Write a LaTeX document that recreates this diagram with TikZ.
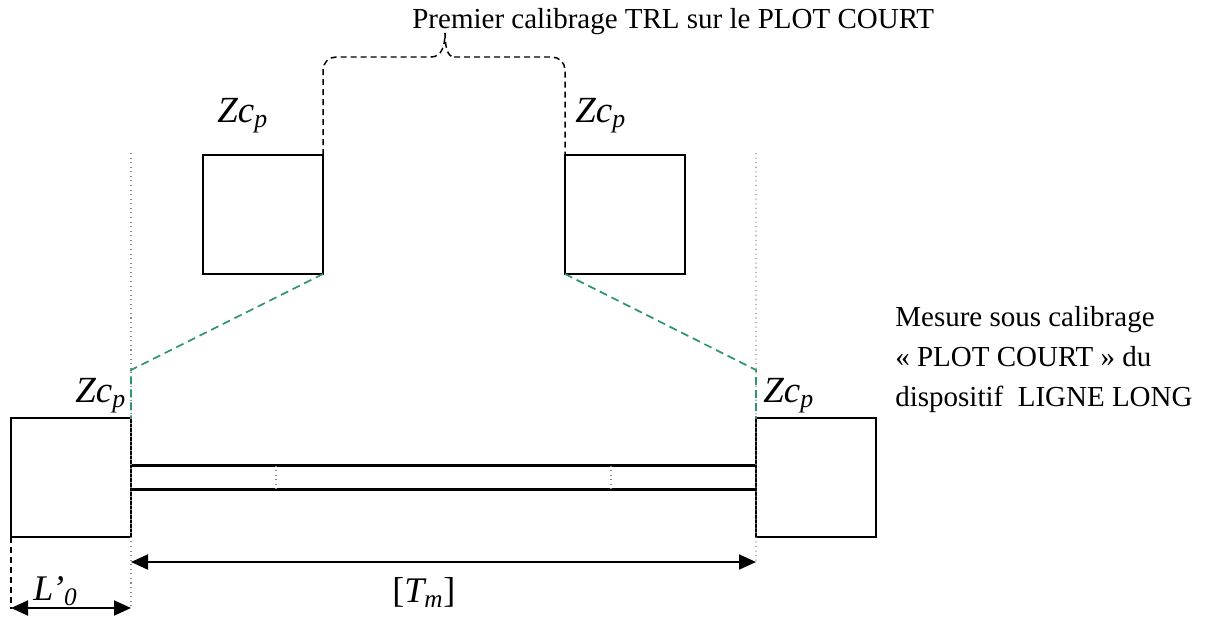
\documentclass[tikz,border=0pt]{standalone}
\usepackage{fontspec}
\setmainfont{Liberation Serif}
\usetikzlibrary{arrows.meta,positioning}

\definecolor{zoomgreen}{RGB}{46,150,104}

\begin{document}
\begin{tikzpicture}[
  font=\fontsize{16.5}{19.8}\selectfont,
  >={Triangle[length=3.4mm,width=3mm]},
  plot/.style={draw,line width=1.1pt,inner sep=0pt,outer sep=0pt,
               minimum width=24mm,minimum height=23.8mm},
  strip/.style={draw,line width=1.2pt,inner sep=0pt,outer sep=0pt,
                minimum width=125mm,minimum height=4.8mm},
  guide/.style={draw=black!45,line width=0.6pt,dotted},
  brc/.style={draw,line width=0.85pt,dash pattern=on 1.2mm off 0.8mm},
  zoomln/.style={draw=zoomgreen,line width=1pt,dash pattern=on 1.6mm off 1mm},
  dim/.style={<->,line width=1.1pt},
  sym/.style={font=\fontsize{21}{24}\selectfont\itshape,inner sep=0pt},
  note/.style={align=left,inner sep=0pt,font=\fontsize{16.5}{22.7}\selectfont},
]
\useasboundingbox (0,0) rectangle (241mm,-123.8mm);

% ---- top: the two short plots used for the first TRL calibration ----
\node[plot,anchor=north east] (zl) at (64.6mm,-31mm) {};
\node[plot,anchor=north west] (zr) at (113mm,-31mm) {};

% ---- bottom: long line device between its two plots ----
\node[plot,anchor=north east] (pl) at (26.2mm,-83.6mm) {};
\node[strip,right=0mm of pl] (ln) {};
\node[plot,right=0mm of ln] (pr) {};
\draw[guide] ([xshift=29mm]ln.north west) -- ([xshift=29mm]ln.south west);
\draw[guide] ([xshift=-29mm]ln.north east) -- ([xshift=-29mm]ln.south east);

% reference planes
\coordinate (gl) at (26.2mm,-30.6mm);
\coordinate (gr) at (151.2mm,-30.6mm);
\draw[guide] (gl) -- ([yshift=-14.4mm]pl.south east);
\draw[guide] (gr) -- ([yshift=-5mm]pr.south west);

% green lines: the short plot is carried over onto the long device
\coordinate (kl) at (26.2mm,-74mm);
\coordinate (kr) at (151.2mm,-74mm);
\draw[zoomln] (zl.south east) -- (kl) -- (pl.north east);
\draw[zoomln] (zr.south west) -- (kr) -- (pr.north west);

% brace over the short plots
\node[inner sep=0pt,anchor=base west] (title) at (82.4mm,-5.6mm)
     {Premier calibrage TRL sur le PLOT COURT};
\coordinate (tip) at (89mm,-6.6mm);
\coordinate (bry) at (0,-11.4mm);
\draw[brc,rounded corners=2.6mm] (zl.north east) |- ([xshift=-2.8mm]tip |- bry);
\draw[brc] ([xshift=-2.8mm]tip |- bry)
      .. controls ([xshift=-0.6mm]tip |- bry) and ([yshift=-2.4mm]tip) .. (tip)
      .. controls ([yshift=-2.4mm]tip) and ([xshift=0.4mm]tip |- bry) .. ([xshift=1.8mm]tip |- bry);
\draw[brc,rounded corners=2.6mm] ([xshift=1.8mm]tip |- bry) -| (zr.north west);

% impedance labels
\node[sym,anchor=base west] (czl) at (43.4mm,-24.4mm) {Zc\textsubscript{p}};
\node[sym,anchor=base west] (czr) at (115mm,-24.4mm) {Zc\textsubscript{p}};
\node[sym,anchor=base west] (cpl) at (15mm,-80.4mm) {Zc\textsubscript{p}};
\node[sym,anchor=base west] (cpr) at (152.6mm,-80.4mm) {Zc\textsubscript{p}};

% dimensions
\draw[dim] ([yshift=-5mm]pl.south east) -- ([yshift=-5mm]pr.south west);
\node[sym,font=\fontsize{20.5}{24}\selectfont,anchor=base west] (tm) at (78.4mm,-120.4mm)
     {\upshape[\itshape T\textsubscript{m}\upshape]};
\draw[brc] (pl.south west) -- ([yshift=-14.4mm]pl.south west);
\draw[dim] ([yshift=-14.2mm]pl.south west) -- ([yshift=-14.2mm]pl.south east);
\node[sym,font=\fontsize{20.5}{24}\selectfont\itshape,anchor=base west] (lo) at (6.6mm,-120mm)
     {L’\textsubscript{0}};

% side note
\node[note,anchor=base west] (mes) at (179mm,-81.2mm)
     {Mesure sous calibrage\\« PLOT COURT » du\\dispositif\ \ LIGNE LONG};

\end{tikzpicture}
\end{document}
